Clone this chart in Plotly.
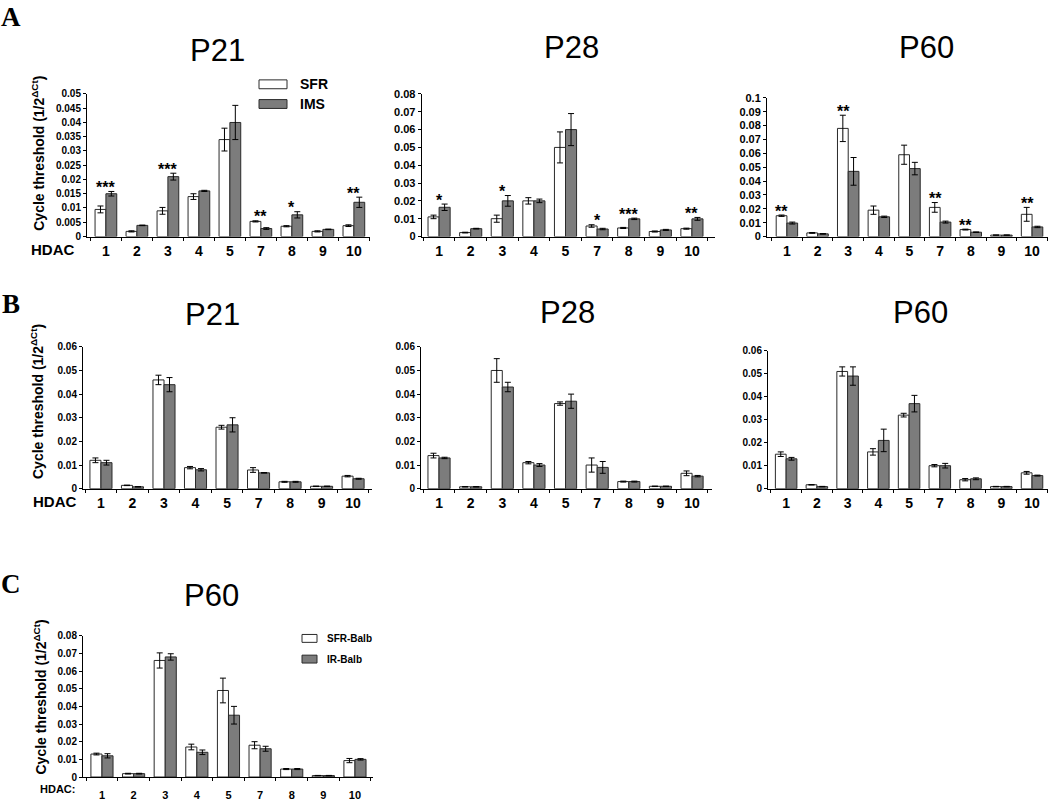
import plotly.graph_objects as go

# ---------------- data ----------------
HDAC = ["1", "2", "3", "4", "5", "7", "8", "9", "10"]

A_P21_SFR = [0.0095, 0.0018, 0.009, 0.014, 0.034, 0.0053, 0.0036, 0.0018, 0.0038]
A_P21_SFR_ERR = [0.0012, 0.0002, 0.0012, 0.001, 0.004, 0.0002, 0.0002, 0.0002, 0.0003]
A_P21_IMS = [0.015, 0.0039, 0.021, 0.016, 0.040, 0.0028, 0.0076, 0.0025, 0.012]
A_P21_IMS_ERR = [0.0008, 0.0001, 0.0012, 0.0002, 0.006, 0.0003, 0.0011, 0.0001, 0.0018]
A_P21_SIG = ["***", "", "***", "", "", "**", "*", "", "**"]

A_P28_SFR = [0.011, 0.0022, 0.010, 0.020, 0.050, 0.0059, 0.0048, 0.0028, 0.0044]
A_P28_SFR_ERR = [0.001, 0.0002, 0.002, 0.0018, 0.0087, 0.0007, 0.0003, 0.0003, 0.0003]
A_P28_IMS = [0.0164, 0.0044, 0.020, 0.020, 0.060, 0.0042, 0.0099, 0.0037, 0.0099]
A_P28_IMS_ERR = [0.0018, 0.0002, 0.003, 0.001, 0.009, 0.0004, 0.0004, 0.0003, 0.0008]
A_P28_SIG = ["*", "", "*", "", "", "*", "***", "", "**"]

A_P60_SFR = [0.015, 0.0026, 0.078, 0.019, 0.059, 0.021, 0.005, 0.001, 0.016]
A_P60_SFR_ERR = [0.0005, 0.0003, 0.0095, 0.003, 0.0069, 0.0035, 0.0003, 0.0001, 0.005]
A_P60_IMS = [0.0097, 0.0019, 0.047, 0.0142, 0.049, 0.0104, 0.0031, 0.001, 0.0069]
A_P60_IMS_ERR = [0.0007, 0.0002, 0.010, 0.0005, 0.0045, 0.0007, 0.0002, 0.0001, 0.0005]
A_P60_SIG = ["**", "", "**", "", "", "**", "**", "", "**"]

B_P21_SFR = [0.012, 0.0014, 0.046, 0.0089, 0.026, 0.0079, 0.0029, 0.001, 0.0053]
B_P21_SFR_ERR = [0.001, 0.0001, 0.002, 0.0005, 0.0008, 0.001, 0.0002, 0.0001, 0.0003]
B_P21_IMS = [0.011, 0.0008, 0.044, 0.008, 0.027, 0.0067, 0.0029, 0.001, 0.0042]
B_P21_IMS_ERR = [0.001, 0.0001, 0.003, 0.0005, 0.003, 0.0001, 0.0002, 0.0001, 0.0002]

B_P28_SFR = [0.014, 0.0008, 0.050, 0.011, 0.036, 0.010, 0.003, 0.001, 0.0065]
B_P28_SFR_ERR = [0.001, 0.0001, 0.005, 0.0005, 0.0007, 0.003, 0.0002, 0.0001, 0.001]
B_P28_IMS = [0.013, 0.0008, 0.043, 0.010, 0.037, 0.009, 0.003, 0.001, 0.0053]
B_P28_IMS_ERR = [0.0003, 0.0001, 0.002, 0.0006, 0.003, 0.0025, 0.0002, 0.0001, 0.0003]

B_P60_SFR = [0.015, 0.0017, 0.051, 0.016, 0.032, 0.010, 0.0039, 0.0009, 0.0069]
B_P60_SFR_ERR = [0.001, 0.0001, 0.002, 0.0014, 0.0008, 0.0005, 0.0005, 0.0001, 0.0006]
B_P60_IMS = [0.013, 0.0009, 0.049, 0.021, 0.037, 0.010, 0.0043, 0.0009, 0.0057]
B_P60_IMS_ERR = [0.0006, 0.0001, 0.004, 0.0049, 0.0036, 0.001, 0.0004, 0.0001, 0.0002]

C_P60_SFR = [0.013, 0.0019, 0.066, 0.017, 0.049, 0.018, 0.0045, 0.0008, 0.0093]
C_P60_SFR_ERR = [0.0005, 0.0002, 0.0043, 0.0016, 0.007, 0.002, 0.0003, 0.0001, 0.0012]
C_P60_IMS = [0.012, 0.0019, 0.068, 0.014, 0.035, 0.016, 0.0045, 0.0008, 0.010]
C_P60_IMS_ERR = [0.0012, 0.0002, 0.0018, 0.0013, 0.005, 0.0014, 0.0003, 0.0001, 0.0004]

# ---------------- layout helpers ----------------
W, H = 1050, 803
def px(x):
    return x / W
def py(y):
    return 1 - y / H

FONT = "Liberation Sans, Arial, sans-serif"
SERIF = "Liberation Serif, Times New Roman, serif"
GRAY = "#7c7c7c"
EDGE = "#2a2a2a"

panels = [
    dict(sfr=A_P21_SFR, se=A_P21_SFR_ERR, ims=A_P21_IMS, ie=A_P21_IMS_ERR, sig=A_P21_SIG,
         xd=(87, 370), yd=(89.3, 234), yr=0.05, dt=0.005, xr=(-0.61, 8.52),
         title="P21", tpos=(217, 45), yfs=10, xfs=14, xstand=2, star_dx=0),
    dict(sfr=A_P28_SFR, se=A_P28_SFR_ERR, ims=A_P28_IMS, ie=A_P28_IMS_ERR, sig=A_P28_SIG,
         xd=(421.7, 715), yd=(89.3, 234), yr=0.08, dt=0.01, xr=(-0.55, 8.73),
         title="P28", tpos=(571, 42), yfs=11, xfs=14, xstand=2, star_dx=0),
    dict(sfr=A_P60_SFR, se=A_P60_SFR_ERR, ims=A_P60_IMS, ie=A_P60_IMS_ERR, sig=A_P60_SIG,
         xd=(767, 1048), yd=(93.3, 234), yr=0.1, dt=0.01, xr=(-0.65, 8.52),
         title="P60", tpos=(926, 42), yfs=11, xfs=14, xstand=2, star_dx=-5),
    dict(sfr=B_P21_SFR, se=B_P21_SFR_ERR, ims=B_P21_IMS, ie=B_P21_IMS_ERR, sig=None,
         xd=(83, 372), yd=(346, 490), yr=0.06, dt=0.01, xr=(-0.57, 8.6),
         title="P21", tpos=(212, 313), yfs=10, xfs=14, xstand=2, star_dx=0),
    dict(sfr=B_P28_SFR, se=B_P28_SFR_ERR, ims=B_P28_IMS, ie=B_P28_IMS_ERR, sig=None,
         xd=(421, 712), yd=(346, 490), yr=0.06, dt=0.01, xr=(-0.57, 8.63),
         title="P28", tpos=(567, 311), yfs=10, xfs=14, xstand=2, star_dx=0),
    dict(sfr=B_P60_SFR, se=B_P60_SFR_ERR, ims=B_P60_IMS, ie=B_P60_IMS_ERR, sig=None,
         xd=(768, 1048), yd=(350, 490), yr=0.06, dt=0.01, xr=(-0.59, 8.52),
         title="P60", tpos=(920, 311), yfs=10, xfs=14, xstand=2, star_dx=0),
    dict(sfr=C_P60_SFR, se=C_P60_SFR_ERR, ims=C_P60_IMS, ie=C_P60_IMS_ERR, sig=None,
         xd=(83, 373), yd=(639.3, 782.7), yr=0.08, dt=0.01, xr=(-0.6, 8.57),
         title="P60", tpos=(211, 598), yfs=10, xfs=11, xstand=8, star_dx=0),
]

fig = go.Figure()
annotations = []
layout = {}

for i, p in enumerate(panels):
    n = "" if i == 0 else str(i + 1)
    xa, ya = "x" + n, "y" + n
    fig.add_trace(go.Bar(
        x=HDAC, y=p["sfr"], xaxis=xa, yaxis=ya, offsetgroup="a",
        marker=dict(color="white", line=dict(color=EDGE, width=1)),
        error_y=dict(type="data", array=p["se"], color="black", thickness=1, width=3),
        showlegend=False))
    fig.add_trace(go.Bar(
        x=HDAC, y=p["ims"], xaxis=xa, yaxis=ya, offsetgroup="b",
        marker=dict(color=GRAY, line=dict(color=EDGE, width=1)),
        error_y=dict(type="data", array=p["ie"], color="black", thickness=1, width=3),
        showlegend=False))
    layout["xaxis" + n] = dict(
        domain=[px(p["xd"][0]), px(p["xd"][1])], anchor=ya, type="category",
        range=list(p["xr"]), showline=True, linecolor="black", linewidth=1,
        ticks="outside", tickson="boundaries", ticklen=3, tickcolor="black",
        ticklabelstandoff=p["xstand"],
        showgrid=False, zeroline=False, fixedrange=True,
        tickfont=dict(family=FONT, size=p["xfs"], color="black", weight="bold"))
    layout["yaxis" + n] = dict(
        domain=[py(p["yd"][1]), py(p["yd"][0])], anchor=xa,
        range=[0, p["yr"]], tickmode="linear", tick0=0, dtick=p["dt"],
        showline=True, linecolor="black", linewidth=1, ticks="outside", ticklen=3,
        tickcolor="black", showgrid=False, zeroline=False, fixedrange=True,
        tickfont=dict(family=FONT, size=p["yfs"], color="black", weight="bold"))
    annotations.append(dict(
        text=p["title"], xref="paper", yref="paper",
        x=px(p["tpos"][0]), y=py(p["tpos"][1]), xanchor="center", yanchor="middle",
        showarrow=False, font=dict(family=FONT, size=31, color="black")))
    if p["sig"]:
        for k, s in enumerate(p["sig"]):
            if not s:
                continue
            top = max(p["sfr"][k] + p["se"][k], p["ims"][k] + p["ie"][k])
            annotations.append(dict(
                text=s, xref=xa, yref=ya, x=k, y=top,
                xanchor="center", yanchor="middle", yshift=4, xshift=p["star_dx"],
                showarrow=False,
                font=dict(family=FONT, size=16, color="black", weight="bold")))

# y-axis titles
ytitle = "Cycle threshold (1/2<sup>ΔCt</sup>)"
for (cx, cy) in [(38, 150), (37, 402), (40, 702)]:
    annotations.append(dict(
        text=ytitle, xref="paper", yref="paper", x=px(cx), y=py(cy),
        xanchor="center", yanchor="middle", textangle=-90, showarrow=False,
        font=dict(family=FONT, size=14, color="black", weight="bold")))

# HDAC labels
for (txt, cx, cy, fs) in [("HDAC", 52, 247, 15), ("HDAC", 54, 503, 15)]:
    annotations.append(dict(
        text=txt, xref="paper", yref="paper", x=px(cx), y=py(cy),
        xanchor="center", yanchor="middle", showarrow=False,
        font=dict(family=FONT, size=fs, color="black", weight="bold")))
annotations.append(dict(
    text="HDAC:", xref="paper", yref="paper", x=px(57), y=0,
    xanchor="center", yanchor="bottom", showarrow=False,
    font=dict(family=FONT, size=11, color="black", weight="bold")))

# panel letters
for (txt, cx, cy) in [("A", 11, 11), ("B", 11, 303), ("C", 11, 587)]:
    annotations.append(dict(
        text=txt, xref="paper", yref="paper", x=px(cx), y=py(cy),
        xanchor="center", yanchor="middle", showarrow=False,
        font=dict(family=SERIF, size=27, color="black", weight="bold")))

# legends (manual)
shapes = []
leg = [
    ("SFR", "white", (259, 287, 75, 84), 298, 14),
    ("IMS", GRAY, (259, 287, 95, 104), 298, 14),
    ("SFR-Balb", "white", (302, 317, 638, 646), 325, 10),
    ("IR-Balb", GRAY, (302, 317, 659, 667), 325, 10),
]
for (txt, col, (x0, x1, y0, y1), tx, fs) in leg:
    shapes.append(dict(type="rect", xref="paper", yref="paper",
                       x0=px(x0), x1=px(x1), y0=py(y1), y1=py(y0),
                       fillcolor=col, line=dict(color=EDGE, width=1)))
    annotations.append(dict(
        text=txt, xref="paper", yref="paper", x=px(tx), y=py((y0 + y1) / 2),
        xanchor="left", yanchor="middle", showarrow=False,
        font=dict(family=FONT, size=fs, color="black", weight="bold")))

fig.update_layout(
    width=W, height=H, autosize=False,
    margin=dict(l=0, r=0, t=0, b=0),
    paper_bgcolor="white", plot_bgcolor="white",
    barmode="group", bargap=0.3, bargroupgap=0,
    annotations=annotations, shapes=shapes,
    showlegend=False,
    **layout)

fig.write_html(
    "out.html",
    config={"displayModeBar": False},
    post_script="document.body.style.margin='0';document.body.style.padding='0';"
                "document.documentElement.style.overflow='hidden';",
)
